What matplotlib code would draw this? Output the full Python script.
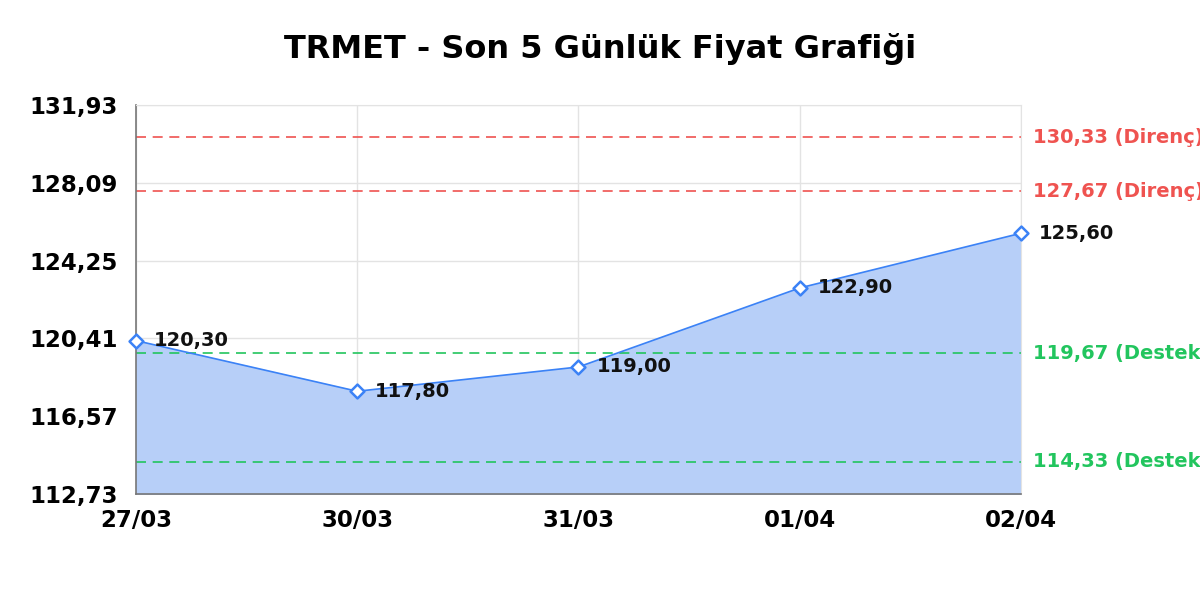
import matplotlib
matplotlib.use("Agg")
import matplotlib.pyplot as plt
import numpy as np

dates = ["27/03", "30/03", "31/03", "01/04", "02/04"]
prices = [120.30, 117.80, 119.00, 122.90, 125.60]
resistance = [130.33, 127.67]
support = [119.67, 114.33]
yticks = [112.73, 116.57, 120.41, 124.25, 128.09, 131.93]
title = "TRMET - Son 5 Günlük Fiyat Grafiği"

def fmt(v):
    return f"{v:.2f}".replace(".", ",")

plt.rcParams['font.family'] = ['DejaVu Sans']
fig = plt.figure(figsize=(12, 6), dpi=100)
ax = fig.add_axes([0.1133, 0.1767, 0.7375, 0.6483])

x = np.arange(len(dates))
line_c = "#3b82f6"
ax.fill_between(x, prices, yticks[0], color="#b7cff8", zorder=1)
ax.plot(x, prices, color=line_c, lw=1.2, zorder=3)
ax.scatter(x, prices, marker="D", s=50, facecolor="white", edgecolor=line_c,
           linewidths=1.8, zorder=4, clip_on=False)
for xi, p in zip(x, prices):
    ax.annotate(fmt(p), (xi, p), xytext=(13, 0), textcoords="offset points",
                va="center", ha="left", fontsize=14, fontweight="bold", color="#111111", zorder=5)

for r in resistance:
    ax.axhline(r, color="#ef5350", lw=1.2, ls=(0, (6, 4)), zorder=2)
    ax.annotate(f"{fmt(r)} (Direnç)", (1, r), xycoords=("axes fraction", "data"),
                xytext=(9, 0), textcoords="offset points", va="center", ha="left",
                fontsize=14, fontweight="bold", color="#ef5350", annotation_clip=False)
for s in support:
    ax.axhline(s, color="#22c55e", lw=1.2, ls=(0, (6, 4)), zorder=2)
    ax.annotate(f"{fmt(s)} (Destek)", (1, s), xycoords=("axes fraction", "data"),
                xytext=(9, 0), textcoords="offset points", va="center", ha="left",
                fontsize=14, fontweight="bold", color="#22c55e", annotation_clip=False)

ax.set_xlim(0, len(dates) - 1)
ax.set_ylim(yticks[0], yticks[-1])
ax.set_xticks(x)
ax.set_xticklabels(dates, fontsize=16.5, fontweight="bold")
ax.set_yticks(yticks)
ax.set_yticklabels([fmt(v) for v in yticks], fontsize=16.5, fontweight="bold")
ax.tick_params(axis="y", length=0, pad=13)
ax.tick_params(axis="x", length=0, pad=11)
ax.grid(True, color="#e3e3e3", lw=1, zorder=0)
ax.set_axisbelow(True)
for side in ["top", "right"]:
    ax.spines[side].set_color("#e3e3e3")
for side in ["left", "bottom"]:
    ax.spines[side].set_color("#777777")
    ax.spines[side].set_linewidth(1.2)

fig.suptitle(title, fontsize=23, fontweight="bold", y=0.945)
fig.savefig("out.png", dpi=100)
